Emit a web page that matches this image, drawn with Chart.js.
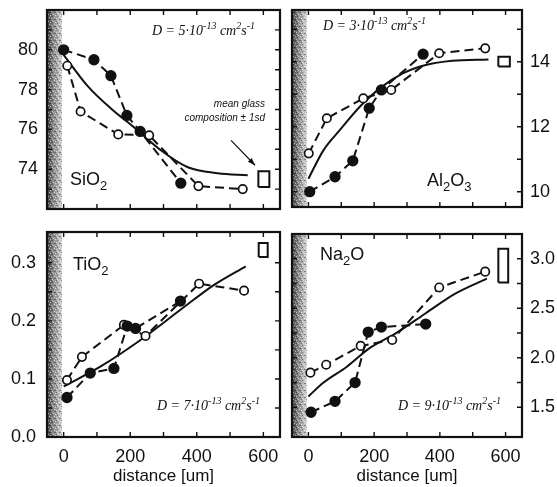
<!DOCTYPE html>
<html>
<head>
<meta charset="utf-8">
<script src="https://cdn.jsdelivr.net/npm/chart.js@4.4.1/dist/chart.umd.min.js"></script>
<style>
  html, body { margin: 0; padding: 0; background: #fff; }
  #wrap { position: relative; width: 557px; height: 487px; }
  #wrap canvas { position: absolute; left: 0; top: 0; }
</style>
</head>
<body>
<div id="wrap">
  <canvas id="c-sio2" width="557" height="487"></canvas>
  <canvas id="c-al2o3" width="557" height="487"></canvas>
  <canvas id="c-tio2" width="557" height="487"></canvas>
  <canvas id="c-na2o" width="557" height="487"></canvas>
</div>
<script>
// distance from the interface (um)
const xRange = [-50, 650];
const xLabels = [0, 200, 400, 600];
const xMarks = [0, 100, 200, 300, 400, 500, 600];
const bandX = [-50, -5];

// SiO2
const sio2FilledX = [0, 91, 142, 190, 230, 352];
const sio2FilledY = [80.0, 79.5, 78.7, 76.7, 75.9, 73.3];
const sio2OpenX = [11, 51, 164, 257, 405, 538];
const sio2OpenY = [79.2, 76.9, 75.75, 75.7, 73.15, 73.0];
const sio2ModelX = [0, 71, 142, 212, 292, 373, 463, 553];
const sio2ModelY = [79.75, 78.2, 77.05, 76.1, 74.95, 74.1, 73.8, 73.7];
const sio2BoxX = [585, 618];
const sio2BoxY = [73.1, 73.9];
const sio2ArrowX = [503, 575];
const sio2ArrowY = [75.45, 74.2];
const sio2Labels = [74, 76, 78, 80];
const sio2Marks = [73, 74, 75, 76, 77, 78, 79, 80, 81];

// Al2O3
const al2o3FilledX = [4, 81, 135, 185, 222, 349];
const al2o3FilledY = [10.0, 10.46, 10.95, 12.57, 13.13, 14.23];
const al2o3OpenX = [1, 56, 167, 252, 398, 538];
const al2o3OpenY = [11.18, 12.26, 12.87, 13.13, 14.26, 14.41];
const al2o3ModelX = [0, 46, 96, 157, 217, 287, 357, 438, 548];
const al2o3ModelY = [10.4, 11.28, 11.9, 12.62, 13.18, 13.64, 13.9, 14.03, 14.07];
const al2o3BoxX = [578, 613];
const al2o3BoxY = [13.85, 14.15];
const al2o3Labels = [10, 12, 14];
const al2o3Marks = [10, 11, 12, 13, 14, 15];

// TiO2
const tio2FilledX = [10, 80, 151, 191, 216, 351];
const tio2FilledY = [0.068, 0.11, 0.118, 0.191, 0.187, 0.234];
const tio2OpenX = [10, 55, 181, 246, 407, 542];
const tio2OpenY = [0.098, 0.138, 0.193, 0.174, 0.264, 0.252];
const tio2ModelX = [0, 110, 231, 351, 452, 547];
const tio2ModelY = [0.087, 0.121, 0.167, 0.219, 0.262, 0.294];
const tio2BoxX = [586, 613];
const tio2BoxY = [0.31, 0.334];
const tio2Labels = [0.0, 0.1, 0.2, 0.3];
const tio2Marks = [0.05, 0.1, 0.15, 0.2, 0.25, 0.3];

// Na2O
const na2oFilledX = [8, 81, 142, 182, 222, 357];
const na2oFilledY = [1.45, 1.56, 1.75, 2.26, 2.31, 2.34];
const na2oOpenX = [6, 54, 159, 255, 398, 538];
const na2oOpenY = [1.85, 1.93, 2.12, 2.18, 2.71, 2.87];
const na2oModelX = [0, 46, 117, 187, 267, 357, 448, 543];
const na2oModelY = [1.61, 1.75, 1.91, 2.10, 2.25, 2.45, 2.65, 2.80];
const na2oBoxX = [578, 608];
const na2oBoxY = [2.76, 3.1];
const na2oLabels = [1.5, 2.0, 2.5, 3.0];
const na2oMarks = [1.5, 1.75, 2.0, 2.25, 2.5, 2.75, 3.0];

const W = 557, H = 487;
const INK = '#111';
const SANS = '"Liberation Sans", Arial, sans-serif';
const SERIF = '"Liberation Serif", "Times New Roman", serif';

function pts(xs, ys) {
  return xs.map((v, i) => ({ x: v, y: ys[i] }));
}

function boxPts(bx, by) {
  return pts([bx[0], bx[1], bx[1], bx[0], bx[0]], [by[0], by[0], by[1], by[1], by[0]]);
}

function measured(xs, ys, filled) {
  return {
    data: pts(xs, ys),
    showLine: true,
    borderColor: INK,
    borderWidth: 2,
    borderDash: [9, 5],
    pointRadius: filled ? 4.8 : 4.2,
    pointBorderWidth: 1.7,
    pointBackgroundColor: filled ? INK : '#fff',
    pointBorderColor: INK
  };
}

function model(xs, ys) {
  return {
    data: pts(xs, ys),
    showLine: true,
    borderColor: INK,
    borderWidth: 2,
    cubicInterpolationMode: 'monotone',
    pointRadius: 0
  };
}

function box(bx, by) {
  return {
    data: boxPts(bx, by),
    showLine: true,
    borderColor: INK,
    borderWidth: 2,
    pointRadius: 0
  };
}

// stippled texture for the grey band
function makeStipple(ctx) {
  const c = document.createElement('canvas');
  c.width = 5; c.height = 7;
  const p = c.getContext('2d');
  p.fillStyle = 'rgba(255,255,255,0.55)';
  [[0, 1], [3, 0], [1, 4], [4, 3], [2, 6]].forEach(([a, b]) => p.fillRect(a, b, 1, 1));
  p.fillStyle = 'rgba(0,0,0,0.35)';
  [[2, 2], [4, 5], [0, 5], [1, 0]].forEach(([a, b]) => p.fillRect(a, b, 1, 1));
  return ctx.createPattern(c, 'repeat');
}

// text with sub/superscripts: parts = [[text, 'n'|'sub'|'sup'], ...]
function drawRich(ctx, x, y, parts, size, family, italic) {
  let cx = x;
  ctx.textBaseline = 'alphabetic';
  ctx.textAlign = 'left';
  parts.forEach(([t, kind]) => {
    const s = kind === 'n' ? size : Math.round(size * 0.7);
    const dy = kind === 'sup' ? -size * 0.4 : kind === 'sub' ? size * 0.3 : 0;
    ctx.font = (italic ? 'italic ' : '') + s + 'px ' + family;
    ctx.fillText(t, cx, y + dy);
    cx += ctx.measureText(t).width;
  });
}

const panelDecor = {
  id: 'panelDecor',
  beforeDatasetsDraw(chart, args, opts) {
    const { ctx, chartArea: a, scales: { x } } = chart;
    const x0 = x.getPixelForValue(bandX[0]);
    const x1 = x.getPixelForValue(bandX[1]);
    ctx.save();
    const g = ctx.createLinearGradient(x0, 0, x1, 0);
    g.addColorStop(0, '#3c3c3c');
    g.addColorStop(0.45, '#8c8c8c');
    g.addColorStop(1, '#d6d6d6');
    ctx.fillStyle = g;
    ctx.fillRect(x0, a.top, x1 - x0, a.bottom - a.top);
    ctx.fillStyle = makeStipple(ctx);
    ctx.fillRect(x0, a.top, x1 - x0, a.bottom - a.top);
    ctx.restore();
  },
  afterDatasetsDraw(chart, args, opts) {
    const { ctx, chartArea: a, scales: { x, y } } = chart;
    ctx.save();
    ctx.fillStyle = INK;
    ctx.strokeStyle = INK;

    // inward tick marks on all four sides
    ctx.lineWidth = 1.4;
    ctx.beginPath();
    xMarks.forEach(v => {
      const px = x.getPixelForValue(v);
      ctx.moveTo(px, a.bottom); ctx.lineTo(px, a.bottom - 5);
      ctx.moveTo(px, a.top); ctx.lineTo(px, a.top + 5);
    });
    opts.yMarks.forEach(v => {
      const py = y.getPixelForValue(v);
      ctx.moveTo(a.left, py); ctx.lineTo(a.left + 5, py);
      ctx.moveTo(a.right, py); ctx.lineTo(a.right - 5, py);
    });
    ctx.stroke();

    // frame
    ctx.lineWidth = 2.2;
    ctx.strokeRect(a.left, a.top, a.right - a.left, a.bottom - a.top);

    // oxide name
    drawRich(ctx, a.left + opts.name.dx, a.top + opts.name.dy, opts.name.parts, 18, SANS, false);
    // diffusivity
    drawRich(ctx, a.left + opts.diff.dx, a.top + opts.diff.dy, opts.diff.parts, 14, SERIF, true);

    if (opts.note) {
      ctx.font = 'italic 10px ' + SANS;
      ctx.textAlign = 'right';
      ctx.textBaseline = 'middle';
      opts.note.lines.forEach((t, i) => {
        ctx.fillText(t, a.right + opts.note.dx, a.top + opts.note.dy + i * 14);
      });
      // arrow to the box
      const ax0 = x.getPixelForValue(sio2ArrowX[0]), ay0 = y.getPixelForValue(sio2ArrowY[0]);
      const ax1 = x.getPixelForValue(sio2ArrowX[1]), ay1 = y.getPixelForValue(sio2ArrowY[1]);
      ctx.lineWidth = 1.2;
      ctx.beginPath();
      ctx.moveTo(ax0, ay0); ctx.lineTo(ax1, ay1);
      ctx.stroke();
      const ang = Math.atan2(ay1 - ay0, ax1 - ax0);
      ctx.beginPath();
      ctx.moveTo(ax1, ay1);
      ctx.lineTo(ax1 - 8 * Math.cos(ang - 0.35), ay1 - 8 * Math.sin(ang - 0.35));
      ctx.lineTo(ax1 - 8 * Math.cos(ang + 0.35), ay1 - 8 * Math.sin(ang + 0.35));
      ctx.closePath();
      ctx.fill();
    }
    ctx.restore();
  }
};

function diffParts(n) {
  return [['D = ' + n + '\u00b710', 'n'], ['-13', 'sup'], [' cm', 'n'], ['2', 'sup'], ['s', 'n'], ['-1', 'sup']];
}

function makePanel(id, p) {
  const bottomRow = p.area.bottom > 300;
  const rightSide = p.side === 'right';
  const padding = {
    top: p.area.top,
    bottom: bottomRow ? 0 : H - p.area.bottom,
    left: rightSide ? p.area.left : 0,
    right: rightSide ? 0 : W - p.area.right
  };
  new Chart(document.getElementById(id), {
    type: 'scatter',
    data: {
      datasets: [
        measured(p.filledX, p.filledY, true),
        measured(p.openX, p.openY, false),
        model(p.modelX, p.modelY),
        box(p.boxX, p.boxY)
      ]
    },
    options: {
      responsive: false,
      animation: false,
      layout: { padding },
      plugins: {
        legend: { display: false },
        tooltip: { enabled: false },
        panelDecor: p.decor
      },
      scales: {
        x: {
          type: 'linear',
          min: xRange[0],
          max: xRange[1],
          display: bottomRow,
          afterBuildTicks: s => { s.ticks = xLabels.map(v => ({ value: v })); },
          afterFit: s => {
            s.height = bottomRow ? H - p.area.bottom : 0;
            s.paddingLeft = 0; s.paddingRight = 0;
          },
          grid: { display: false, drawTicks: false },
          border: { display: false },
          ticks: {
            color: INK,
            font: { family: SANS, size: 18 },
            padding: 9,
            maxRotation: 0,
            autoSkip: false
          },
          title: {
            display: true,
            text: 'distance [um]',
            color: INK,
            font: { family: SANS, size: 17 },
            padding: { top: 0, bottom: 0 }
          }
        },
        y: {
          type: 'linear',
          position: p.side,
          min: p.yRange[0],
          max: p.yRange[1],
          afterBuildTicks: s => { s.ticks = p.yLabels.map(v => ({ value: v })); },
          afterFit: s => {
            s.width = rightSide ? W - p.area.right : p.area.left;
            s.paddingTop = 0; s.paddingBottom = 0;
          },
          grid: { display: false, drawTicks: false },
          border: { display: false },
          ticks: {
            color: INK,
            font: { family: SANS, size: 18 },
            padding: p.labelPad,
            autoSkip: false,
            callback: v => p.fixed ? Number(v).toFixed(1) : String(v)
          }
        }
      }
    },
    plugins: [panelDecor]
  });
}

makePanel('c-sio2', {
  area: { left: 47, top: 10, right: 280, bottom: 209 },
  side: 'left', labelPad: 9, fixed: false,
  yRange: [72, 82], yLabels: sio2Labels,
  filledX: sio2FilledX, filledY: sio2FilledY,
  openX: sio2OpenX, openY: sio2OpenY,
  modelX: sio2ModelX, modelY: sio2ModelY,
  boxX: sio2BoxX, boxY: sio2BoxY,
  decor: {
    yMarks: sio2Marks,
    name: { dx: 23, dy: 175, parts: [['SiO', 'n'], ['2', 'sub']] },
    diff: { dx: 105, dy: 25, parts: diffParts(5) },
    note: { dx: -15, dy: 94, lines: ['mean glass', 'composition \u00b1 1sd'] }
  }
});

makePanel('c-al2o3', {
  area: { left: 292, top: 10, right: 522, bottom: 207 },
  side: 'right', labelPad: 8, fixed: false,
  yRange: [9.53, 15.59], yLabels: al2o3Labels,
  filledX: al2o3FilledX, filledY: al2o3FilledY,
  openX: al2o3OpenX, openY: al2o3OpenY,
  modelX: al2o3ModelX, modelY: al2o3ModelY,
  boxX: al2o3BoxX, boxY: al2o3BoxY,
  decor: {
    yMarks: al2o3Marks,
    name: { dx: 135, dy: 176, parts: [['Al', 'n'], ['2', 'sub'], ['O', 'n'], ['3', 'sub']] },
    diff: { dx: 31, dy: 20, parts: diffParts(3) }
  }
});

makePanel('c-tio2', {
  area: { left: 47, top: 232, right: 280, bottom: 437 },
  side: 'left', labelPad: 11, fixed: true,
  yRange: [0, 0.353], yLabels: tio2Labels,
  filledX: tio2FilledX, filledY: tio2FilledY,
  openX: tio2OpenX, openY: tio2OpenY,
  modelX: tio2ModelX, modelY: tio2ModelY,
  boxX: tio2BoxX, boxY: tio2BoxY,
  decor: {
    yMarks: tio2Marks,
    name: { dx: 26, dy: 38, parts: [['TiO', 'n'], ['2', 'sub']] },
    diff: { dx: 110, dy: 178, parts: diffParts(7) }
  }
});

makePanel('c-na2o', {
  area: { left: 292, top: 234, right: 522, bottom: 437 },
  side: 'right', labelPad: 8, fixed: true,
  yRange: [1.2, 3.25], yLabels: na2oLabels,
  filledX: na2oFilledX, filledY: na2oFilledY,
  openX: na2oOpenX, openY: na2oOpenY,
  modelX: na2oModelX, modelY: na2oModelY,
  boxX: na2oBoxX, boxY: na2oBoxY,
  decor: {
    yMarks: na2oMarks,
    name: { dx: 28, dy: 26, parts: [['Na', 'n'], ['2', 'sub'], ['O', 'n']] },
    diff: { dx: 106, dy: 176, parts: diffParts(9) }
  }
});
</script>
</body>
</html>
